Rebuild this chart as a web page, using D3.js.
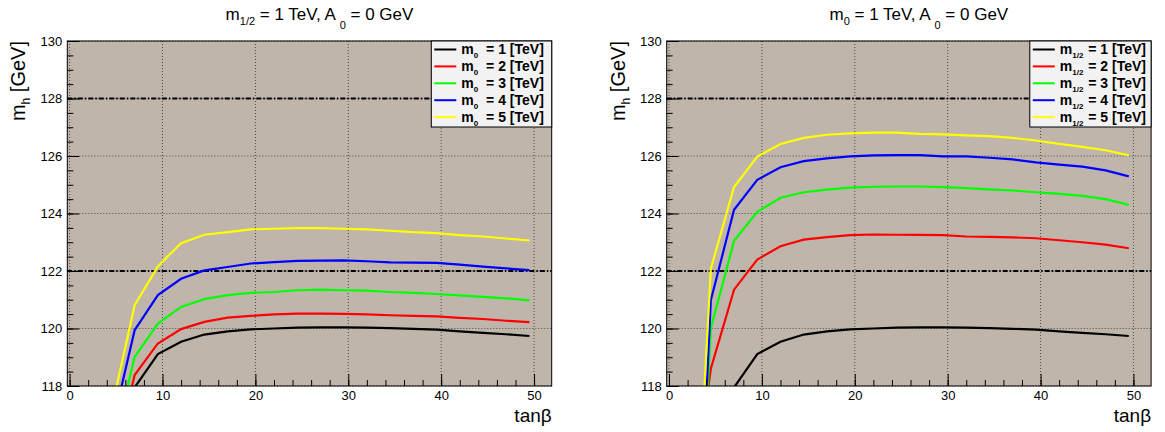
<!DOCTYPE html>
<html lang="en">
<head>
    <meta charset="UTF-8">
    <title>mh vs tanb</title>
    <script src="https://cdn.jsdelivr.net/npm/d3@7/dist/d3.min.js"></script>
    <style>
        body { margin: 0; background: #fff; }
        text { font-family: "Liberation Sans", Arial, sans-serif; }
        .frame-bg { fill: #bfb5ab; }
        .grid line { stroke: #333; stroke-width: 1; stroke-dasharray: 1,2; opacity: 0.8; }
        .refline { stroke: #000; stroke-width: 2; stroke-dasharray: 5,2,1.5,2; fill: none; }
        .curve { fill: none; stroke-width: 2.2; }
        .axis path { display: none; }
        .axis line { stroke: #000; }
        .axis text { font-size: 13px; fill: #000; }
    </style>
</head>
<body>
<svg id="main-svg" width="1165" height="432" xmlns="http://www.w3.org/2000/svg"></svg>

<script>
    'use strict';
    // tanβ points of the scan
    const tanBeta = [2, 4.5, 7, 9.5, 12, 14.5, 17, 19.5, 22, 24.5, 27, 29.5, 32, 34.5, 37, 39.5, 42, 44.5, 47, 49.5];

    // m0 = 1, m1/2 = 1 TeV (common to both panels)
    const mhRef = [null, 113.0, 117.95, 119.11, 119.54, 119.79, 119.90, 119.97, 120.00, 120.03, 120.04, 120.04, 120.03, 120.01, 119.99, 119.96, 119.90, 119.85, 119.80, 119.74];

    // left panel: m1/2 = 1 TeV, m0 = 2..5 TeV
    const mhM0_2 = [null, 115.0, 118.38, 119.48, 119.98, 120.23, 120.38, 120.44, 120.49, 120.52, 120.52, 120.51, 120.49, 120.46, 120.44, 120.42, 120.37, 120.33, 120.27, 120.22];
    const mhM0_3 = [null, 115.64, 119.01, 120.17, 120.75, 121.02, 121.16, 121.24, 121.27, 121.33, 121.35, 121.33, 121.32, 121.27, 121.24, 121.20, 121.15, 121.10, 121.05, 120.98];
    const mhM0_4 = [null, 116.48, 119.94, 121.16, 121.73, 122.02, 122.14, 122.26, 122.31, 122.35, 122.36, 122.37, 122.34, 122.30, 122.29, 122.28, 122.22, 122.15, 122.09, 122.03];
    const mhM0_5 = [null, 117.17, 120.81, 122.16, 122.97, 123.26, 123.35, 123.45, 123.47, 123.49, 123.49, 123.47, 123.45, 123.40, 123.35, 123.32, 123.25, 123.20, 123.13, 123.06];

    // right panel: m0 = 1 TeV, m1/2 = 2..5 TeV
    const mhM12_2 = [112.6, 118.6, 121.35, 122.40, 122.86, 123.09, 123.18, 123.25, 123.27, 123.26, 123.26, 123.25, 123.20, 123.19, 123.17, 123.14, 123.07, 123.00, 122.92, 122.79];
    const mhM12_3 = [104.4, 120.0, 123.05, 124.06, 124.55, 124.74, 124.83, 124.90, 124.93, 124.94, 124.94, 124.92, 124.88, 124.84, 124.80, 124.74, 124.68, 124.61, 124.50, 124.30];
    const mhM12_4 = [103.7, 120.98, 124.13, 125.17, 125.61, 125.82, 125.92, 125.99, 126.02, 126.03, 126.03, 125.99, 125.99, 125.94, 125.88, 125.78, 125.70, 125.63, 125.50, 125.29];
    const mhM12_5 = [107.1, 122.08, 124.92, 125.98, 126.42, 126.63, 126.74, 126.79, 126.81, 126.81, 126.77, 126.75, 126.72, 126.69, 126.63, 126.54, 126.42, 126.32, 126.20, 126.02];

    const legendValues = ['1', '2', '3', '4', '5'];
    const colors = ['#000000', '#ff0000', '#00ff00', '#0000ff', '#ffff00'];
    const xTicks = [0, 10, 20, 30, 40, 50];
    const yTicks = [118, 120, 122, 124, 126, 128, 130];
    const refLevels = [122, 128];

    const svg = d3.select('#main-svg');
    const W = 484.4, H = 345;

    function drawPanel(left, id, titleMain, legendSub, series) {
        const g = svg.append('g').attr('transform', `translate(${left},41)`);
        const x = d3.scaleLinear().domain([-0.25, 51.9]).range([0, W]);
        const y = d3.scaleLinear().domain([118, 130]).range([H, 0]);

        g.append('rect').attr('class', 'frame-bg').attr('width', W).attr('height', H);

        // grid
        const grid = g.append('g').attr('class', 'grid');
        grid.selectAll('.gx').data(xTicks).join('line')
            .attr('x1', d => x(d)).attr('x2', d => x(d)).attr('y1', 0).attr('y2', H);
        grid.selectAll('.gy').data(yTicks).join('line')
            .attr('x1', 0).attr('x2', W).attr('y1', d => y(d)).attr('y2', d => y(d));

        // reference lines
        g.selectAll('.refline').data(refLevels).join('line').attr('class', 'refline')
            .attr('x1', 0).attr('x2', W).attr('y1', d => y(d)).attr('y2', d => y(d));

        // curves, clipped to the frame
        g.append('clipPath').attr('id', 'clip' + id)
            .append('rect').attr('width', W).attr('height', H);
        const line = d3.line()
            .defined(d => d[1] !== null)
            .x(d => x(d[0])).y(d => y(d[1]));
        g.append('g').attr('clip-path', `url(#clip${id})`)
            .selectAll('path').data(series).join('path')
            .attr('class', 'curve')
            .attr('stroke', (d, i) => colors[i])
            .attr('d', s => line(tanBeta.map((t, i) => [t, s[i]])));

        // axes: minor then major ticks, drawn inward
        g.append('g').attr('class', 'axis').attr('transform', `translate(0,${H})`)
            .call(d3.axisBottom(x).tickValues(d3.range(0, 51, 2)).tickSize(-6).tickFormat(''));
        g.append('g').attr('class', 'axis').attr('transform', `translate(0,${H})`)
            .call(d3.axisBottom(x).tickValues(xTicks).tickSize(-12).tickPadding(5));
        g.append('g').attr('class', 'axis')
            .call(d3.axisLeft(y).tickValues(d3.range(118, 130.01, 0.5)).tickSize(-6).tickFormat(''));
        g.append('g').attr('class', 'axis')
            .call(d3.axisLeft(y).tickValues(yTicks).tickSize(-12).tickPadding(5));

        g.append('rect').attr('width', W).attr('height', H)
            .attr('fill', 'none').attr('stroke', '#000');

        // axis titles
        const yt = g.append('text').attr('transform', 'translate(-42,0) rotate(-90)')
            .attr('text-anchor', 'end').style('font-size', '20px');
        yt.append('tspan').text('m');
        yt.append('tspan').attr('dy', 5).style('font-size', '12px').text('h');
        yt.append('tspan').attr('dy', -5).text(' [GeV]');

        g.append('text').attr('x', W).attr('y', 381).attr('text-anchor', 'end')
            .style('font-size', '19px').text('tanβ');

        // title
        const tt = g.append('text').attr('x', W / 2 + 10).attr('y', -21)
            .attr('text-anchor', 'middle').style('font-size', '17px');
        tt.append('tspan').text('m');
        tt.append('tspan').attr('dy', 5).style('font-size', '11px').text(titleMain);
        tt.append('tspan').attr('dy', -5).text(' = 1 TeV, A ');
        tt.append('tspan').attr('dy', 9).style('font-size', '11px').text('0');
        tt.append('tspan').attr('dy', -9).text(' = 0 GeV');

        // legend
        const lw = legendSub === '0' ? 120.4 : 121.3;
        const gap = legendSub === '0' ? 4 : 1;
        const lg = g.append('g').attr('transform', `translate(${W - lw},0)`);
        lg.append('rect').attr('width', lw).attr('height', 86)
            .attr('fill', '#f2f2f2').attr('stroke', '#000');
        const rows = lg.selectAll('.row').data(legendValues).join('g')
            .attr('transform', (d, i) => `translate(0,${8.5 + i * 16.9})`);
        rows.append('line').attr('x1', 3).attr('x2', 25)
            .attr('stroke', (d, i) => colors[i]).attr('stroke-width', 2);
        const lt = rows.append('text').attr('x', 30).attr('y', 4.5)
            .style('font-size', '14px').style('font-weight', 'bold');
        lt.append('tspan').text('m');
        lt.append('tspan').attr('dy', 4).style('font-size', '8px').text(legendSub);
        lt.append('tspan').attr('dy', -4).attr('dx', gap).text(d => ` = ${d} [TeV]`);
    }

    drawPanel(67.3, 'L', '1/2', '0', [mhRef, mhM0_2, mhM0_3, mhM0_4, mhM0_5]);
    drawPanel(666.7, 'R', '0', '1/2', [mhRef, mhM12_2, mhM12_3, mhM12_4, mhM12_5]);
</script>
</body>
</html>
